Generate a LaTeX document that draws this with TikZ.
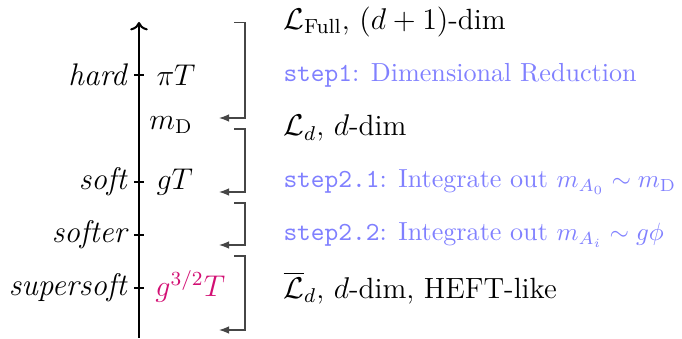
\documentclass[tikz,border=0pt]{standalone}
\usepackage{amsmath}
\usetikzlibrary{arrows.meta}
\definecolor{stepblue}{RGB}{128,128,255}
\definecolor{ssmag}{RGB}{210,15,115}
\definecolor{brgray}{RGB}{70,70,70}
\begin{document}
\begin{tikzpicture}[x=0.4pt,y=-0.4pt,
  axisline/.style={line width=0.8pt,->},
  tickline/.style={line width=0.5pt},
  scalelbl/.style={anchor=east,inner sep=0pt,font=\fontsize{12.5}{14}\selectfont\itshape},
  masslbl/.style={anchor=west,inner sep=0pt,font=\fontsize{12}{14}\selectfont},
  desclbl/.style={anchor=west,inner sep=0pt,font=\fontsize{11.7}{13}\selectfont},
  steplbl/.style={anchor=west,inner sep=0pt,text=stepblue,font=\fontsize{10.45}{12}\selectfont}]
\tikzset{bracket/.style={draw=brgray,line width=0.5pt,-{Latex[length=4pt,width=3pt]}}}
\useasboundingbox (0,0) rectangle (682,339);
% axis
\coordinate (abot) at (139,338);
\coordinate (atop) at (139,22);
\draw[axisline] (abot) -- (atop);
% ticks
\foreach \n/\y in {th/75,ts/182,tsr/235,tss/288}{
  \coordinate (\n a) at (134,\y);
  \coordinate (\n b) at (144,\y);
  \draw[tickline] (\n a) -- (\n b);
}
% scale labels
\node[scalelbl] (hard) at (127,75) {hard};
\node[scalelbl] (soft) at (127,182) {soft};
\node[scalelbl] (softer) at (127,235) {softer};
\node[scalelbl] (supersoft) at (127,288) {supersoft};
% mass labels
\node[masslbl] (piT) at (156,75) {$\pi T$};
\node[masslbl] (mD) at (149,125) {$m_{\mathrm{D}}$};
\node[masslbl] (gT) at (156,182) {$gT$};
\node[masslbl,text=ssmag] (g32T) at (155,286) {$g^{3/2}T$};
% descriptions
\node[desclbl] (lfull) at (283,22) {$\mathcal{L}_{\text{Full}}$, $(d+1)$-dim};
\node[steplbl] (s1) at (283,75) {\texttt{step1}: Dimensional Reduction};
\node[desclbl] (ld) at (283,128) {$\mathcal{L}_d$, $d$-dim};
\node[steplbl] (s21) at (283,182) {\texttt{step2.1}: Integrate out $m_{A_0}\sim m_{\mathrm{D}}$};
\node[steplbl] (s22) at (283,235) {\texttt{step2.2}: Integrate out $m_{A_i}\sim g\phi$};
\node[desclbl] (lbar) at (283,288) {$\overline{\mathcal{L}}_d$, $d$-dim, HEFT-like};
% brackets
\foreach \n/\t/\b in {bA/22.5/118,bB/129/192,bC/203/245,bD/256/330}{
  \coordinate (\n s) at (234,\t);
  \coordinate (\n c1) at (245,\t);
  \coordinate (\n c2) at (245,\b);
  \coordinate (\n e) at (219,\b);
  \draw[bracket] (\n s) -- (\n c1) -- (\n c2) -- (\n e);
}
\end{tikzpicture}
\end{document}
